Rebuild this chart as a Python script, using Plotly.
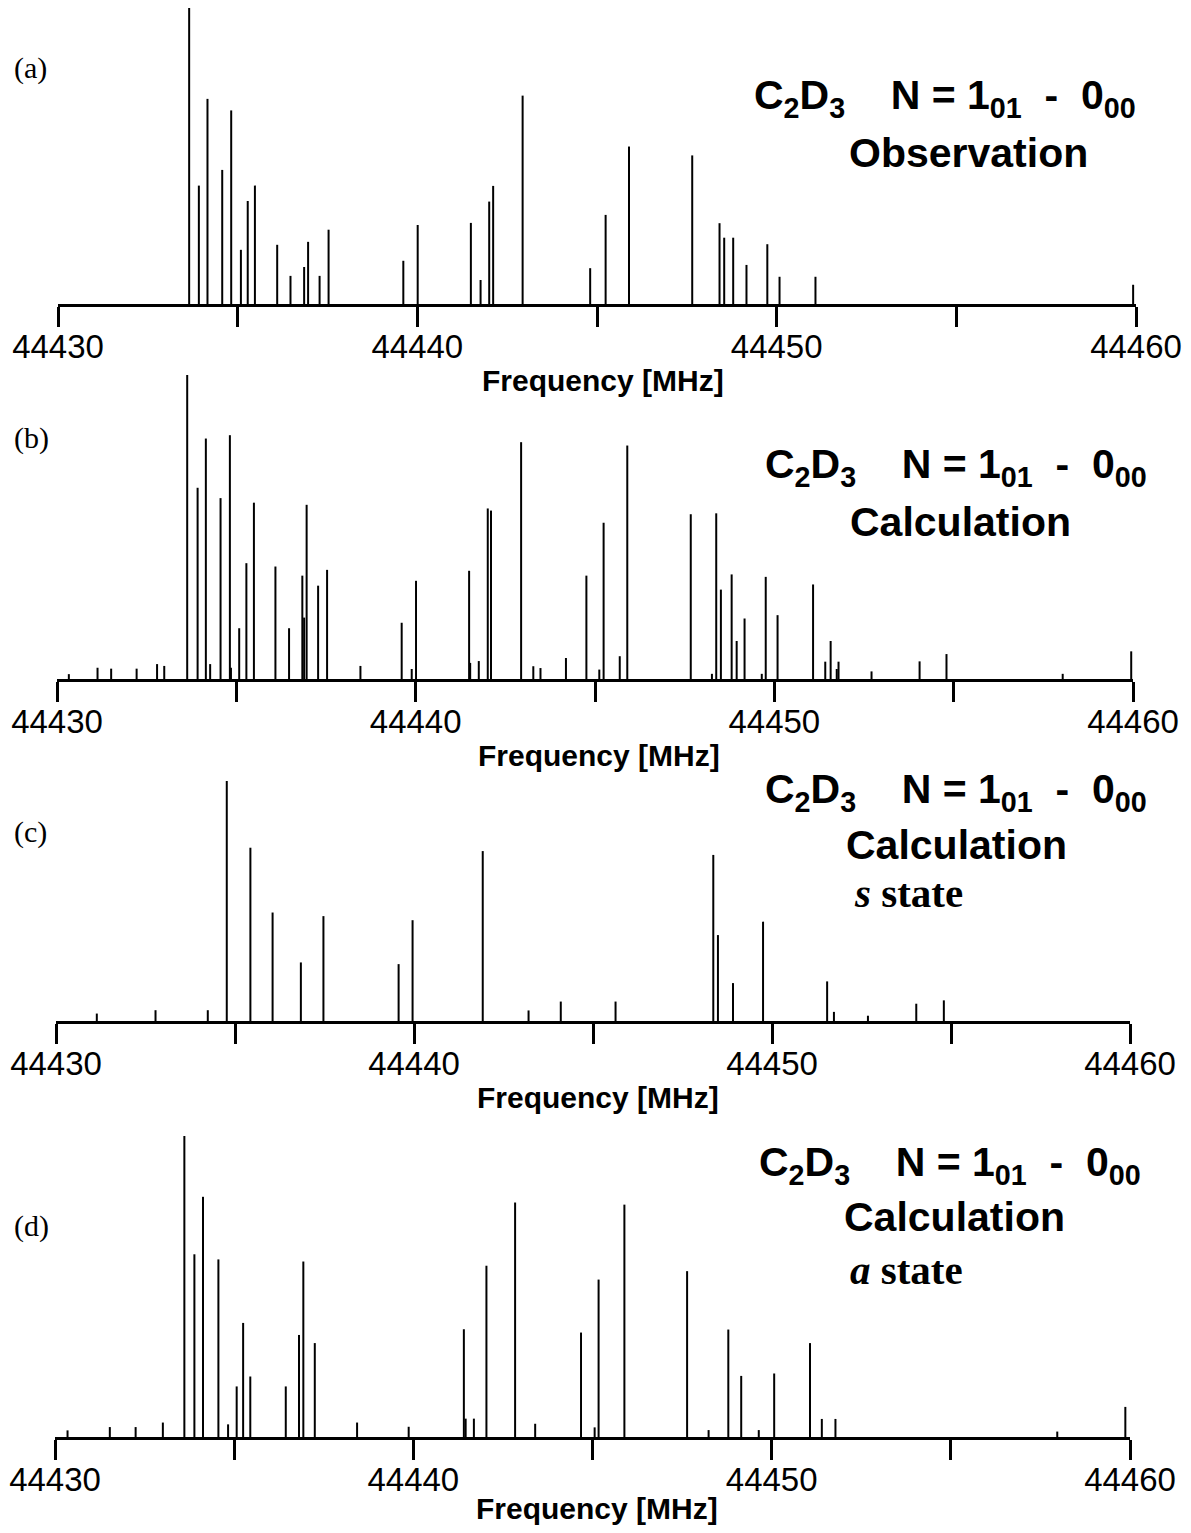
import plotly.graph_objects as go

W, H = 1191, 1533          # browser window / reference picture size
OFF = 8                    # default page body margin around the figure
FW, FH = W - 2 * OFF, H - 2 * OFF

# ---------------- data (frequency in MHz, relative intensity, tallest = 100) ----------------
freq_a = [44433.65, 44433.92, 44434.16, 44434.57, 44434.82, 44435.09, 44435.28, 44435.48,
          44436.10, 44436.47, 44436.85, 44436.96, 44437.28, 44437.53, 44439.61, 44440.01,
          44441.49, 44441.76, 44442.00, 44442.11, 44442.93, 44444.81, 44445.24, 44445.89,
          44447.65, 44448.41, 44448.54, 44448.79, 44449.16, 44449.74, 44450.08, 44451.08,
          44459.92]
int_a = [100, 40.0, 69.3, 45.3, 65.4, 18.3, 34.8, 40.0,
         20.0, 9.5, 12.5, 21.0, 9.5, 25.1, 14.6, 26.7,
         27.4, 8.1, 34.6, 39.9, 70.4, 12.1, 30.1, 53.2,
         50.2, 27.3, 22.4, 22.4, 13.2, 20.2, 9.2, 9.2,
         6.5]

freq_b = [44430.33, 44431.13, 44431.51, 44432.22, 44432.79, 44432.99, 44433.63, 44433.92,
          44434.15, 44434.27, 44434.56, 44434.82, 44434.85, 44435.08, 44435.28, 44435.49,
          44436.09, 44436.47, 44436.84, 44436.89, 44436.96, 44437.28, 44437.53, 44438.46,
          44439.61, 44439.89, 44440.01, 44441.49, 44441.52, 44441.76, 44442.01, 44442.10,
          44442.94, 44443.28, 44443.48, 44444.19, 44444.76, 44445.12, 44445.24, 44445.69,
          44445.90, 44447.67, 44448.26, 44448.38, 44448.51, 44448.81, 44448.95, 44449.17,
          44449.65, 44449.76, 44450.09, 44451.08, 44451.42, 44451.57, 44451.74, 44451.79,
          44452.71, 44454.05, 44454.80, 44458.04, 44459.95]
int_b = [1.6, 3.7, 3.4, 3.4, 4.9, 4.3, 100, 62.9,
         79.1, 4.9, 59.5, 80.2, 3.7, 16.7, 38.1, 58.0,
         37.0, 16.7, 34.0, 20.2, 57.3, 30.7, 35.9, 4.3,
         18.5, 3.3, 32.3, 35.6, 5.3, 5.9, 56.1, 55.4,
         77.9, 4.2, 3.6, 6.9, 34.0, 3.1, 51.4, 7.5,
         76.8, 54.2, 1.7, 54.5, 29.4, 34.4, 12.5, 19.9,
         1.7, 33.6, 21.0, 31.1, 5.7, 12.5, 3.3, 5.7,
         2.5, 5.8, 8.2, 1.7, 9.1]

freq_c = [44431.14, 44432.78, 44434.24, 44434.77, 44435.43, 44436.05, 44436.84, 44437.47,
          44439.57, 44439.96, 44441.92, 44443.20, 44444.10, 44445.63, 44448.36, 44448.49,
          44448.91, 44449.75, 44451.54, 44451.73, 44452.68, 44454.03, 44454.80]
int_c = [3.1, 4.5, 4.5, 100, 72.2, 45.2, 24.4, 43.7,
         23.7, 42.0, 70.8, 4.4, 8.1, 8.1, 69.2, 35.8,
         15.8, 41.4, 16.5, 3.8, 2.2, 7.2, 8.6]

freq_d = [44430.35, 44431.53, 44432.25, 44433.01, 44433.61, 44433.89, 44434.13, 44434.56,
          44434.83, 44435.07, 44435.25, 44435.45, 44436.44, 44436.81, 44436.93, 44437.25,
          44438.43, 44439.87, 44441.41, 44441.46, 44441.69, 44442.04, 44442.84, 44443.40,
          44444.68, 44445.06, 44445.17, 44445.89, 44447.64, 44448.24, 44448.79, 44449.15,
          44449.64, 44450.07, 44451.07, 44451.40, 44451.78, 44457.97, 44459.87]
int_d = [2.2, 3.3, 3.3, 4.8, 100, 60.7, 79.8, 59.0,
         4.2, 16.8, 37.9, 20.1, 16.8, 33.9, 58.3, 31.2,
         4.8, 3.4, 35.8, 6.1, 6.1, 56.9, 77.9, 4.4,
         34.7, 3.2, 52.3, 77.2, 55.1, 2.3, 35.7, 20.3,
         2.3, 21.1, 31.2, 6.0, 6.0, 1.8, 10.0]

tick_vals = [44430, 44440, 44450, 44460]
tick_text = ["44430", "44440", "44450", "44460"]
minor_step = 5
panel_labels = ["(a)", "(b)", "(c)", "(d)"]
subtitles = ["Observation", "Calculation", "Calculation", "Calculation"]
state_labels = [None, None, "<i>s</i> state", "<i>a</i> state"]
x_title = "Frequency [MHz]"
NB = "\u00a0"
title_text = ("<b>C<sub>2</sub>D<sub>3</sub>" + NB * 4 + "N = 1<sub>01</sub>"
              + NB * 2 + "-" + NB * 2 + "0<sub>00</sub></b>")

# ---------------- layout geometry (reference pixels) ----------------
geom = [
    dict(x0=58, x1=1136, base=304, top=8, lab_y=68, t_x=752, t_y=98, s_x=968, s_y=153,
         st_x=908, st_y=None, ft_x=603, ft_y=380),
    dict(x0=57, x1=1133, base=679, top=375, lab_y=438, t_x=763, t_y=467, s_x=960, s_y=522,
         st_x=908, st_y=None, ft_x=599, ft_y=755),
    dict(x0=56, x1=1130, base=1021, top=781, lab_y=832, t_x=763, t_y=792, s_x=956, s_y=845,
         st_x=908, st_y=893, ft_x=598, ft_y=1097),
    dict(x0=55, x1=1130, base=1437, top=1136, lab_y=1226, t_x=757, t_y=1165, s_x=954, s_y=1217,
         st_x=907, st_y=1270, ft_x=597, ft_y=1508),
]
data = [(freq_a, int_a), (freq_b, int_b), (freq_c, int_c), (freq_d, int_d)]

fig = go.Figure()
layout = dict(width=FW, height=FH, margin=dict(l=0, r=0, t=0, b=0, autoexpand=False),
              paper_bgcolor="white", plot_bgcolor="white", showlegend=False)
annotations = []


def px_x(x):
    return (x - OFF) / FW


def px_y(y):
    return 1 - (y - OFF) / FH


for i, ((fr, it), g) in enumerate(zip(data, geom)):
    n = "" if i == 0 else str(i + 1)
    xs, ys = [], []
    for f, v in zip(fr, it):
        xs += [f, f, None]
        ys += [0, v, None]
    fig.add_trace(go.Scatter(x=xs, y=ys, mode="lines", line=dict(color="black", width=2),
                             xaxis="x" + n, yaxis="y" + n, hoverinfo="skip"))
    layout["xaxis" + n] = dict(
        domain=[px_x(g["x0"]), px_x(g["x1"])], anchor="y" + n, range=[44430, 44460],
        showline=True, linecolor="black", linewidth=3, showgrid=False, zeroline=False,
        ticks="outside", ticklen=20, tickwidth=3, tickcolor="black",
        tickmode="array", tickvals=tick_vals, ticktext=tick_text,
        minor=dict(dtick=minor_step, tick0=44430, ticks="outside", ticklen=20, tickwidth=3,
                   tickcolor="black", showgrid=False),
        tickfont=dict(family="Liberation Sans, Arial, sans-serif", size=33, color="black"),
        ticklabelstandoff=-9, automargin=False,
    )
    layout["yaxis" + n] = dict(
        domain=[px_y(g["base"]), px_y(g["top"])], anchor="x" + n, range=[0, 100],
        visible=False, fixedrange=True, automargin=False,
    )
    annotations.append(dict(text=panel_labels[i], x=px_x(12), y=px_y(g["lab_y"]),
                            xref="paper", yref="paper", xanchor="left", yanchor="middle",
                            showarrow=False,
                            font=dict(family="Liberation Serif, Times New Roman, serif", size=30,
                                      color="black")))
    annotations.append(dict(text=title_text, x=px_x(g["t_x"]), y=px_y(g["t_y"]),
                            xref="paper", yref="paper", xanchor="left", yanchor="middle",
                            showarrow=False,
                            font=dict(family="Liberation Sans, Arial, sans-serif", size=41,
                                      color="black")))
    annotations.append(dict(text="<b>" + subtitles[i] + "</b>", x=px_x(g["s_x"]), y=px_y(g["s_y"]),
                            xref="paper", yref="paper", xanchor="center", yanchor="middle",
                            showarrow=False,
                            font=dict(family="Liberation Sans, Arial, sans-serif", size=41,
                                      color="black")))
    if state_labels[i]:
        annotations.append(dict(text="<b>" + state_labels[i] + "</b>", x=px_x(g["st_x"]),
                                y=px_y(g["st_y"]), xref="paper", yref="paper",
                                xanchor="center", yanchor="middle", showarrow=False,
                                font=dict(family="Liberation Serif, Times New Roman, serif",
                                          size=41, color="black")))
    annotations.append(dict(text="<b>" + x_title + "</b>", x=px_x(g["ft_x"]), y=px_y(g["ft_y"]),
                            xref="paper", yref="paper", xanchor="center", yanchor="middle",
                            showarrow=False,
                            font=dict(family="Liberation Sans, Arial, sans-serif", size=30,
                                      color="black")))

layout["annotations"] = annotations
fig.update_layout(**layout)
fig.write_html("out.html")
